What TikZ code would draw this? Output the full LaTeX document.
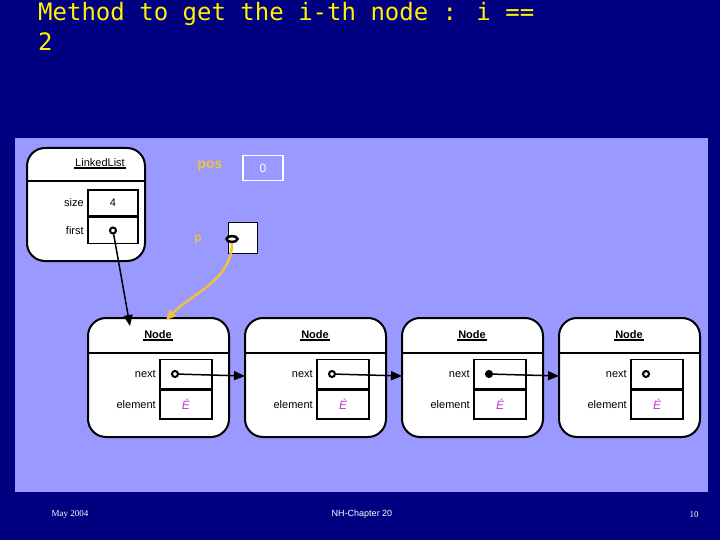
\documentclass[tikz,border=0pt]{standalone}
\usepackage{fontspec}
\setmainfont{Liberation Sans}
\newfontfamily\titlefont{DejaVu Sans Mono}
\newfontfamily\footfont{Liberation Serif}
\usetikzlibrary{arrows.meta, positioning, shapes.geometric}
\definecolor{slidebg}{HTML}{000080}
\definecolor{panel}{HTML}{9999FF}
\definecolor{posyellow}{HTML}{F0C040}
\definecolor{elemcol}{HTML}{CC33CC}

\begin{document}
\begin{tikzpicture}[x=1pt, y=-1pt,
    objbox/.style={draw, line width=2pt, fill=white, rounded corners=18pt},
    cell/.style={draw, line width=1.5pt, fill=white, minimum width=52pt, minimum height=29pt, inner sep=0pt},
    fieldlabel/.style={anchor=east, font=\fontsize{11}{11}\selectfont},
    heading/.style={font=\fontsize{11}{11}\selectfont, inner sep=1pt},
    ptr/.style={circle, draw, line width=2pt, fill=white, minimum size=6pt, inner sep=0pt},
    link/.style={line width=1.5pt, -{Triangle[length=11pt, width=9pt]}},
]
    % background and panel
    \fill[slidebg] (0,0) rectangle (720,540);
    \useasboundingbox (0,0) rectangle (720,540);
    \fill[panel] (15,138) rectangle (708,492);
    \node[anchor=north west, align=left, text=yellow, font=\titlefont\fontsize{24}{30}\selectfont, inner sep=0pt] (title) at (38,2) {Method to get the i-th node : i ==\\2};

    % LinkedList object
    \draw[objbox] (27,148) rectangle (145,261);
    \draw[line width=2pt] (27,181) -- (145,181);
    \node[heading] (lltitle) at (100,163) {LinkedList};
    \draw[line width=2.5pt] (lltitle.south west) -- (lltitle.south east);
    \node[cell, minimum width=50pt, minimum height=26pt] (size) at (113,203) {\fontsize{11}{11}\selectfont 4};
    \node[cell, minimum width=50pt, minimum height=26pt, below=0pt of size] (first) {};
    \node[fieldlabel] at (size.west) {size};
    \node[fieldlabel] at (first.west) {first};
    \node[ptr] (firstptr) at (first.center) {};

    % pos and p
    \node[text=posyellow, font=\bfseries\fontsize{14}{14}\selectfont] (poslabel) at (210,166) {pos};
    \node[draw=white, line width=1.5pt, minimum width=40pt, minimum height=25pt, text=white, font=\fontsize{12}{12}\selectfont] (pos) at (263,168) {0};
    \node[text=posyellow, font=\bfseries\fontsize{12}{12}\selectfont] (plabel) at (198,240) {p};
    \node[draw, line width=1.5pt, fill=white, minimum width=29pt, minimum height=31pt] (p) at (243,238) {};
    \node[ellipse, draw, line width=2.5pt, fill=white, minimum width=11pt, minimum height=6pt, inner sep=0pt] (pptr) at (232,239) {};

    % list nodes
    \foreach \i/\x in {1/88, 2/245, 3/402, 4/559} {
        \draw[objbox] (\x,318) rectangle ++(141,119);
        \draw[line width=2pt] (\x,353) -- ++(141,0);
        \node[heading, font=\bfseries\fontsize{11}{11}\selectfont] (head\i) at (\x+70,335) {Node};
        \draw[line width=2.5pt] (head\i.south west) -- (head\i.south east);
        \node[cell] (next\i) at (\x+98,374) {};
        \node[cell, below=0pt of next\i] (elem\i) {\itshape\color{elemcol}\fontsize{12}{12}\selectfont É};
        \node[fieldlabel] at (next\i.west) {next};
        \node[fieldlabel] at (elem\i.west) {element};
        \node[ptr] (nptr\i) at ([xshift=-11pt]next\i.center) {};
    }
    \fill (nptr3) circle (3.5pt);

    % links
    \draw[link] (firstptr) -- (130,326);
    \draw[link, draw=posyellow, line width=2.5pt, -{Triangle[length=10pt, width=9pt]}] (pptr.south) .. controls (232,280) and (190,295) .. (166,320);
    \draw[link] (nptr1) -- (245,376);
    \draw[link] (nptr2) -- (402,376);
    \draw[link] (nptr3) -- (559,376);

    % footer
    \node[text=white, font=\footfont\fontsize{9}{9}\selectfont] (date) at (70,514) {May 2004};
    \node[text=white, font=\fontsize{9}{9}\selectfont] (chapter) at (362,514) {NH-Chapter 20};
    \node[text=white, font=\footfont\fontsize{9}{9}\selectfont] (page) at (694,515) {10};
\end{tikzpicture}
\end{document}
